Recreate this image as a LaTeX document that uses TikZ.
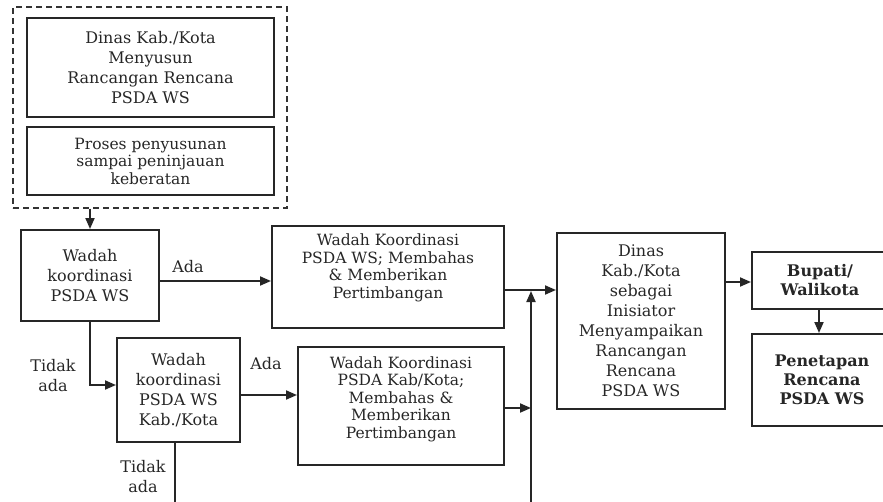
\documentclass[tikz,border=0pt]{standalone}
\usepackage{fontspec}
\setmainfont{DejaVu Serif}
\usetikzlibrary{arrows.meta}

\begin{document}
\begin{tikzpicture}[x=1pt,y=-1pt,
  every node/.style={text=black!85},
  box/.style={draw=black!85, line width=2pt, inner sep=0pt, align=center,
              font=\fontsize{16}{20}\selectfont},
  tight/.style={font=\fontsize{15.5}{17.5}\selectfont},
  strong/.style={font=\bfseries\fontsize{16}{19}\selectfont},
  grpbox/.style={draw=black!80, line width=1.4pt, dash pattern=on 6pt off 4pt, inner sep=0pt},
  arr/.style={draw=black!85, line width=1.9pt, -{Triangle[length=11pt,width=9pt]}},
  ln/.style={draw=black!85, line width=1.9pt},
  lbl/.style={align=center, font=\fontsize{16}{20}\selectfont, inner sep=0pt}]

\useasboundingbox (0,0) rectangle (883,501);
\clip (0,0) rectangle (883,501);

% preparation group
\node[grpbox, minimum width=274pt, minimum height=201pt] (grp) at (150,107.5) {};
\node[box, minimum width=247pt, minimum height=99pt] (b1) at (150.5,67.5)
  {Dinas Kab./Kota\\Menyusun\\Rancangan Rencana\\PSDA WS};
\node[box, tight, minimum width=247pt, minimum height=68pt] (b2) at (150.5,161)
  {Proses penyusunan\\sampai peninjauan\\keberatan};

% coordination bodies
\node[box, minimum width=138pt, minimum height=91pt] (b3) at (90,275.5)
  {Wadah\\koordinasi\\PSDA WS};
\node[box, tight, minimum width=232pt, minimum height=102pt, text depth=22pt] (b4) at (388,277)
  {Wadah Koordinasi\\PSDA WS; Membahas\\\& Memberikan\\Pertimbangan};
\node[box, minimum width=123pt, minimum height=104pt] (b5) at (178.5,390)
  {Wadah\\koordinasi\\PSDA WS\\Kab./Kota};
\node[box, tight, minimum width=206pt, minimum height=118pt, text depth=17pt] (b6) at (401,406)
  {Wadah Koordinasi\\PSDA Kab/Kota;\\Membahas \&\\Memberikan\\Pertimbangan};

% submission and decision
\node[box, minimum width=168pt, minimum height=176pt] (b7) at (641,321)
  {Dinas\\Kab./Kota\\sebagai\\Inisiator\\Menyampaikan\\Rancangan\\Rencana\\PSDA WS};
\node[box, strong, minimum width=136pt, minimum height=57pt] (b8) at (820,280.5)
  {Bupati/\\Walikota};
\node[box, strong, minimum width=140pt, minimum height=92pt] (b9) at (822,380)
  {Penetapan\\Rencana\\PSDA WS};

% helper points for the routed connectors
\coordinate (k1) at (90,385);
\coordinate (bus) at (531,290);
\coordinate (busend) at (531,505);
\coordinate (down) at (175,505);
\coordinate (j4) at (504,290);
\coordinate (j6) at (504,408);
\coordinate (j7) at (725,282);

% connectors
\draw[arr] (grp.south -| b3.north) -- (b3.north);
\draw[arr] ([yshift=-5.5pt]b3.east) -- ([yshift=-5.5pt]b3.east -| b4.west);
\node[lbl] (ada1) at (188,267) {Ada};
\draw[arr] (b3.south) -- (k1) -- (k1 -| b5.west);
\node[lbl] (tidak1) at (53,376) {Tidak\\ada};
\draw[arr] ([yshift=-5pt]b5.east) -- ([yshift=-5pt]b5.east -| b6.west);
\node[lbl] (ada2) at (266,364) {Ada};
\draw[ln] (b5.south -| down) -- (down);
\node[lbl] (tidak2) at (143,477) {Tidak\\ada};
\draw[arr] (busend) -- ([yshift=-1pt]bus);
\draw[arr] (j4) -- (j4 -| b7.west);
\draw[arr] (j6) -- (j6 -| busend);
\draw[arr] (j7) -- (j7 -| b8.west);
\draw[arr] (b8.south -| 819,0) -- (b9.north -| 819,0);
\end{tikzpicture}
\end{document}
